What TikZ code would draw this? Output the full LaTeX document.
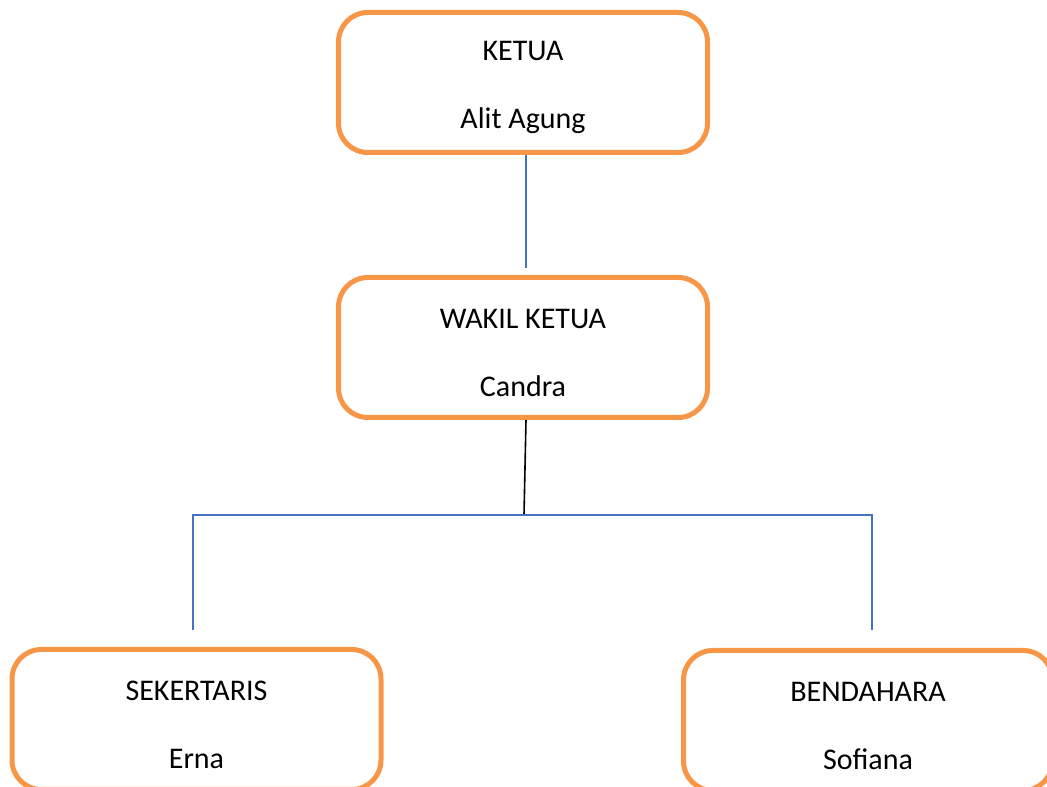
\documentclass[tikz,border=0pt]{standalone}
\usepackage{fontspec}
\setmainfont{Carlito}
\usetikzlibrary{positioning}
\definecolor{boxorange}{HTML}{F79646}
\definecolor{linkblue}{HTML}{4472C4}

\begin{document}
\begin{tikzpicture}[
  x=0.75pt, y=-0.75pt,
  unit/.style={draw=boxorange, line width=3.75pt, rounded corners=22pt,
    minimum width=276.75pt, minimum height=105pt, align=center,
    text height=73pt, font=\fontsize{22.5}{51}\selectfont},
  node distance=90pt,
  bluelink/.style={draw=linkblue, line width=1.3pt},
  blacklink/.style={draw=black, line width=1.2pt}
]
\useasboundingbox (0,0) rectangle (1047,787);

\node[unit] (ketua) at (523,82.5) {KETUA\\Alit Agung};
\node[unit] (wakil) [below=of ketua] {WAKIL KETUA\\Candra};
\node[unit] (sekretaris) at (196.5,719.5) {SEKERTARIS\\Erna};
\node[unit] (bendahara) at (868,720.5) {BENDAHARA\\Sofiana};

\coordinate (wakilTop) at ([xshift=2.25pt, yshift=5.25pt]wakil.north);
\coordinate (busMid) at (524,515);
\coordinate (busLeft) at (193,515);
\coordinate (busRight) at (872,515);
\coordinate (sekTop) at (193,630);
\coordinate (bendTop) at (872,630);

\draw[bluelink] ([xshift=2.25pt]ketua.south) -- (wakilTop);
\draw[blacklink] ([xshift=2.25pt]wakil.south) -- (busMid);
\draw[bluelink] (sekTop) -- (busLeft) -- (busRight) -- (bendTop);

\end{tikzpicture}
\end{document}
